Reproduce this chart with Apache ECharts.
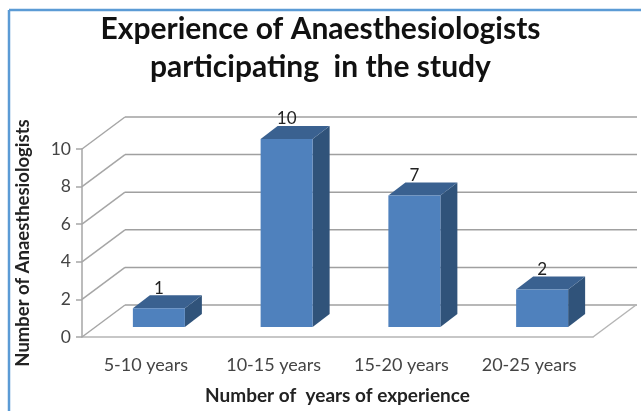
<!DOCTYPE html>
<html>
<head>
<meta charset="utf-8">
<style>
  html, body { margin: 0; padding: 0; background: #fff; }
  #chart { width: 641px; height: 411px; }
</style>
<script src="https://cdn.jsdelivr.net/npm/echarts@6/dist/echarts.min.js"></script>
</head>
<body>
<div id="chart"></div>
<script>
var categories = ['5-10 years', '10-15 years', '15-20 years', '20-25 years'];
var counts = [1, 10, 7, 2];
var yTicks = [0, 2, 4, 6, 8, 10];

var fontName = 'Lato';
var backX = 43, backY = -32;   // back wall shift
var barX = 13, barY = -10;     // front of the bars sits a bit behind the axis plane
var sideX = 17, sideY = -13;   // bar depth
var barWidth = 52;

function renderWall(params, api) {
  var s = params.coordSys;
  var v = api.value(0);
  var y = api.coord([0, v])[1];
  var right = s.x + s.width;
  var lines = [
    { type: 'line', shape: { x1: s.x, y1: y, x2: s.x + backX, y2: y + backY }, style: { stroke: '#a6a6a6', lineWidth: 1.5 } },
    { type: 'line', shape: { x1: s.x + backX, y1: y + backY, x2: right + backX + 1, y2: y + backY }, style: { stroke: '#a0a0a0', lineWidth: 1.5 } }
  ];
  if (v === 0) {
    lines.push({ type: 'line', shape: { x1: right, y1: y, x2: right + backX, y2: y + backY }, style: { stroke: '#b5b5b5', lineWidth: 1.5 } });
  }
  return { type: 'group', children: lines };
}

function renderBar(params, api) {
  var base = api.coord([api.value(0), 0]);
  var top = api.coord([api.value(0), api.value(1)]);
  var l = base[0] + barX - barWidth / 2;
  var r = l + barWidth;
  var b = base[1] + barY;
  var t = top[1] + barY;
  return {
    type: 'group',
    children: [
      { type: 'polygon', shape: { points: [[r, t], [r + sideX, t + sideY], [r + sideX, b + sideY], [r, b]] }, style: { fill: '#30537a' } },
      { type: 'polygon', shape: { points: [[l, t], [l + sideX, t + sideY], [r + sideX, t + sideY], [r, t]] }, style: { fill: '#3a6190' } },
      { type: 'rect', shape: { x: l, y: t, width: barWidth, height: b - t }, style: { fill: '#4f81bd' } },
      { type: 'text', x: l + barWidth / 2, y: t - 20, style: { text: String(api.value(1)), fill: '#222', font: '17px ' + fontName, align: 'center', verticalAlign: 'middle' } }
    ]
  };
}

var chart = echarts.init(document.getElementById('chart'), null, { renderer: 'canvas' });
chart.setOption({
  animation: false,
  backgroundColor: '#fff',
  title: {
    text: 'Experience of Anaesthesiologists\nparticipating  in the study',
    left: 'center',
    top: 5,
    textStyle: { fontFamily: fontName, fontSize: 30, fontWeight: 'bold', color: '#111', lineHeight: 38 }
  },
  graphic: [
    { type: 'line', shape: { x1: 9, y1: 10, x2: 641, y2: 10 }, style: { stroke: '#5b9bd5', lineWidth: 2.5 } },
    { type: 'line', shape: { x1: 9, y1: 10, x2: 9, y2: 411 }, style: { stroke: '#5b9bd5', lineWidth: 2.5 } }
  ],
  grid: { left: 82, right: 48, top: 149, bottom: 74 },
  xAxis: {
    type: 'category',
    data: categories,
    name: 'Number of  years of experience',
    nameLocation: 'middle',
    nameGap: 49,
    nameTextStyle: { fontFamily: fontName, fontSize: 19, fontWeight: 'bold', color: '#222' },
    axisLine: { lineStyle: { color: '#b5b5b5', width: 1.5 } },
    axisTick: { show: false },
    axisLabel: { fontFamily: fontName, fontSize: 18, color: '#444', margin: 19 }
  },
  yAxis: {
    type: 'value',
    min: 0,
    max: 10,
    interval: 2,
    name: 'Number of Anaesthesiologists',
    nameLocation: 'middle',
    nameGap: 49,
    nameTextStyle: { fontFamily: fontName, fontSize: 18.5, fontWeight: 'bold', color: '#222' },
    axisLine: { show: true, lineStyle: { color: '#a6a6a6', width: 1.5 } },
    axisTick: { show: true, length: 6, lineStyle: { color: '#a6a6a6', width: 1.5 } },
    axisLabel: { fontFamily: fontName, fontSize: 17.5, color: '#444', margin: 11, padding: [4, 0, 0, 0] },
    splitLine: { show: false }
  },
  series: [
    {
      type: 'custom',
      renderItem: renderWall,
      data: yTicks.map(function (t) { return [t]; }),
      encode: { y: 0 },
      clip: false,
      silent: true,
      z: 1
    },
    {
      type: 'custom',
      renderItem: renderBar,
      data: counts.map(function (c, i) { return [i, c]; }),
      encode: { x: 0, y: 1 },
      clip: false,
      z: 2
    }
  ]
});
</script>
</body>
</html>
